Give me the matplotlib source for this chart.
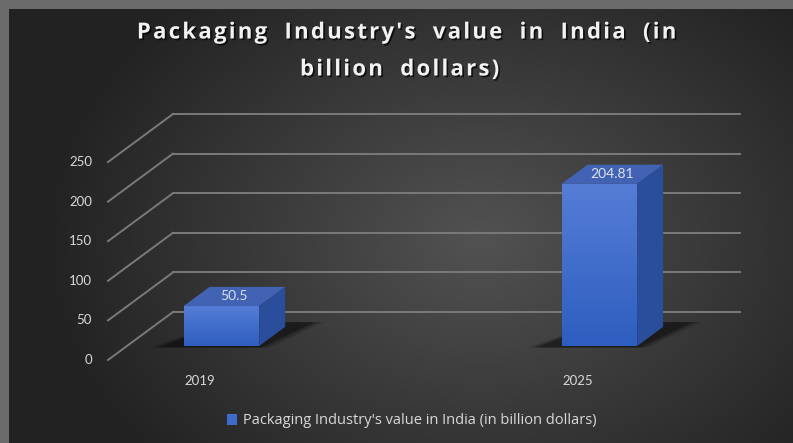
import numpy as np
import matplotlib
matplotlib.use("Agg")
import matplotlib.pyplot as plt
from matplotlib.patches import Polygon, Patch
import matplotlib.patheffects as pe

years = ["2019", "2025"]
values = [50.5, 204.81]
value_labels = ["50.5", "204.81"]
yticks = [0, 50, 100, 150, 200, 250]
series_name = "Packaging Industry's value in India (in billion dollars)"
title_lines = ["Packaging Industry's value in India (in", "billion dollars)"]

W, H = 793, 443
FONT = ["Lato", "DejaVu Sans"]
WIDE = ["Open Sans", "DejaVu Sans"]
TXT = "#d9d9d9"


def spaced(s):
    # loose tracking: hair space between letters, wider gaps between words
    words = s.split(" ")
    return "   ".join("\u200a".join(wd) for wd in words)


def main():
    plt.rcParams['font.family'] = FONT
    fig = plt.figure(figsize=(W / 100, H / 100), dpi=100)

    # dark radial backdrop with the grey strip on the top and left
    bg = fig.add_axes([0, 0, 1, 1], zorder=0)
    yy, xx = np.mgrid[0:H, 0:W]
    r = np.sqrt(((xx - 480) / 440.0) ** 2 + ((yy - 240) / 330.0) ** 2)
    shade = (82 - 48 * np.clip(r, 0, 1)) / 255.0
    img = np.dstack([shade] * 3)
    img[:9, :, :] = 0x6b / 255.0
    img[:, :9, :] = 0x6b / 255.0
    bg.imshow(img, extent=(0, W, H, 0), aspect='auto', interpolation='bilinear')
    bg.set_xlim(0, W)
    bg.set_ylim(H, 0)
    bg.axis('off')

    # front plane of the floor; depth is added as a fixed pixel offset
    ax = fig.add_axes([108 / W, 83 / H, 567 / W, 198 / H], zorder=1)
    ax.set_xlim(-0.25, 1.25)
    ax.set_ylim(0, 250)
    ax.axis('off')
    ax.patch.set_alpha(0)

    px_x = 567 / 1.5
    px_y = 198 / 250.0
    DX, DY = 65 / px_x, 48 / px_y

    def pt(x, v, d):
        return (x + d * DX, v + d * DY)

    x0, x1 = ax.get_xlim()
    grid_kw = dict(color="#7a7a7a", lw=1.4, clip_on=False, zorder=1)
    for v in yticks:
        a, b = pt(x0, v, 0), pt(x0, v, 1)
        ax.plot([a[0], b[0]], [a[1], b[1]], **grid_kw)
        c = pt(x1, v, 1)
        ax.plot([b[0], c[0]], [b[1], c[1]], **grid_kw)
        ax.annotate(str(v), xy=(x0, v), xytext=(-16, 0), textcoords='offset pixels',
                    ha='right', va='center', color=TXT, fontsize=9.5,
                    annotation_clip=False)

    w = 0.2
    df, db = 0.29, 0.69
    for i, (yr, val, lab) in enumerate(zip(years, values, value_labels)):
        xl, xr = i - w / 2, i + w / 2

        # soft floor shadow, spreading left under the front edge
        for k, a in enumerate([0.12, 0.18, 0.3]):
            g = 0.035 - 0.012 * k
            sh = [pt(xl - g - 0.05, 0, df - 0.03), pt(xr + g, 0, df - 0.03),
                  pt(xr + g + 0.05, 0, db + 0.1), pt(xl + 0.02, 0, db + 0.1)]
            ax.add_patch(Polygon(sh, closed=True, fc='black', ec='none', alpha=a,
                                 clip_on=False, zorder=2))

        front = Polygon([pt(xl, 0, df), pt(xr, 0, df), pt(xr, val, df), pt(xl, val, df)],
                        closed=True, fc="#3f6ccb", ec='none', clip_on=False, zorder=3)
        ax.add_patch(front)
        fx0, fy0 = pt(xl, 0, df)
        fx1, fy1 = pt(xr, val, df)
        grad = np.linspace(0, 1, 64)[:, None]
        top_c = np.array([0x55, 0x7d, 0xd6]) / 255.0
        bot_c = np.array([0x2e, 0x5e, 0xc0]) / 255.0
        gimg = top_c[None, None, :] * (1 - grad[..., None]) + bot_c[None, None, :] * grad[..., None]
        gimg = np.repeat(gimg, 2, axis=1)
        im = ax.imshow(gimg, extent=(fx0, fx1, fy0, fy1), aspect='auto',
                       origin='upper', zorder=3.5, clip_on=True)
        im.set_clip_path(front)

        top = Polygon([pt(xl, val, df), pt(xr, val, df), pt(xr, val, db), pt(xl, val, db)],
                      closed=True, fc="#4263b3", ec='none', clip_on=False, zorder=4)
        ax.add_patch(top)
        side = Polygon([pt(xr, 0, df), pt(xr, 0, db), pt(xr, val, db), pt(xr, val, df)],
                       closed=True, fc="#2a4d9c", ec='none', clip_on=False, zorder=4)
        ax.add_patch(side)

        tx, ty = pt(i, val, (df + db) / 2)
        ax.text(tx, ty, lab, ha='center', va='center', color="#dbe1ee",
                fontsize=10, zorder=5, clip_on=False)

        ax.annotate(yr, xy=(i, 0), xytext=(-3, -21), textcoords='offset pixels',
                    ha='center', va='center', color=TXT, fontsize=9.5,
                    annotation_clip=False)

    shadow = [pe.SimplePatchShadow(offset=(1.2, -1.2), shadow_rgbFace='black', alpha=0.7),
              pe.Normal()]
    for line, cx, cy in zip(title_lines, [407, 400], [33, 70]):
        fig.text(cx / W, 1 - cy / H, spaced(line), ha='center', va='center', family=WIDE,
                 color="#f2f2f2", fontsize=16, fontweight='bold',
                 path_effects=shadow, zorder=5)

    fig.legend(handles=[Patch(fc="#3f6ccb")], labels=[series_name], loc='center',
               bbox_to_anchor=(412 / W, 22 / H), frameon=False,
               prop={'family': WIDE, 'size': 10.5},
               labelcolor=TXT, handlelength=0.7, handleheight=0.7, handletextpad=0.4)

    fig.savefig("out.png", dpi=100)


if __name__ == '__main__':
    main()
